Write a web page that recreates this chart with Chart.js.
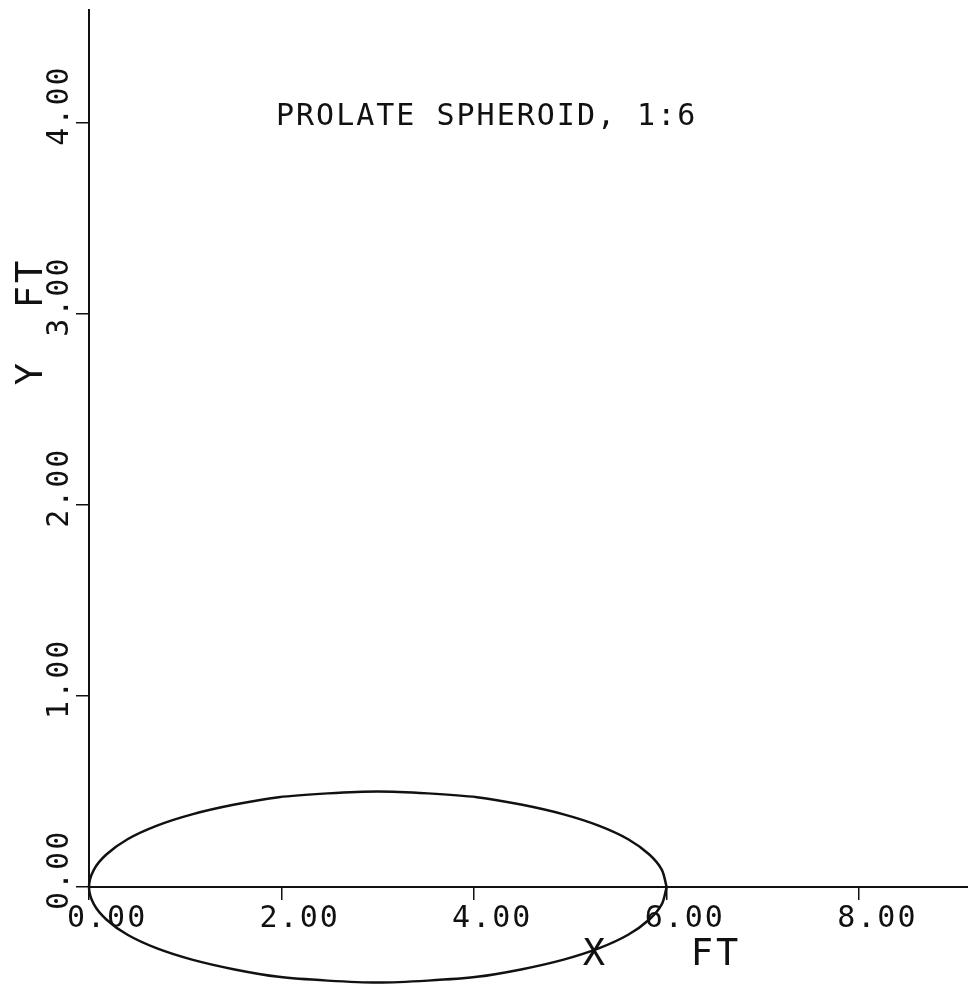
<!DOCTYPE html>
<html>
<head>
<meta charset="utf-8">
<script src="https://cdn.jsdelivr.net/npm/chart.js@4"></script>
<style>
  body { margin: 0; background: #fff; }
  #wrap { width: 968px; height: 987px; position: relative; }
</style>
</head>
<body>
<div id="wrap"><canvas id="myChart"></canvas></div>
<script>
// ticks
var xTickValues = [0, 2, 4, 6, 8];
var xTickLabels = ['0.00', '2.00', '4.00', '6.00', '8.00'];
var yTickValues = [0, 1, 2, 3, 4];
var yTickLabels = ['0.00', '1.00', '2.00', '3.00', '4.00'];

// outline of the spheroid (FT)
var shapeX = [6.00, 5.95, 5.82, 5.60, 5.30, 4.93, 4.50, 4.03, 3.52, 3.00, 2.48, 1.97, 1.50, 1.07, 0.70, 0.40, 0.18, 0.05, 0.00,
              0.05, 0.18, 0.40, 0.70, 1.07, 1.50, 1.97, 2.48, 3.00, 3.52, 4.03, 4.50, 4.93, 5.30, 5.60, 5.82, 5.95, 6.00];
var shapeY = [0.00, 0.09, 0.17, 0.25, 0.32, 0.38, 0.43, 0.47, 0.49, 0.50, 0.49, 0.47, 0.43, 0.38, 0.32, 0.25, 0.17, 0.09, 0.00,
              -0.09, -0.17, -0.25, -0.32, -0.38, -0.43, -0.47, -0.49, -0.50, -0.49, -0.47, -0.43, -0.38, -0.32, -0.25, -0.17, -0.09, 0.00];

var titleText = 'PROLATE SPHEROID, 1:6';

var points = shapeX.map(function (x, i) { return { x: x, y: shapeY[i] }; });

var FONT = '"DejaVu Sans Mono", monospace';

// labels drawn plotter style: offset from the ticks, y labels turned
var plotterText = {
  id: 'plotterText',
  afterDraw: function (chart) {
    var ctx = chart.ctx;
    var xs = chart.scales.x, ys = chart.scales.y;
    ctx.save();
    ctx.fillStyle = '#111';
    ctx.textBaseline = 'alphabetic';

    ctx.font = '30px ' + FONT;
    ctx.letterSpacing = '2px';
    ctx.textAlign = 'left';
    xTickValues.forEach(function (v, i) {
      ctx.fillText(xTickLabels[i], xs.getPixelForValue(v) - 22, 927);
    });
    yTickValues.forEach(function (v, i) {
      ctx.save();
      ctx.translate(68, ys.getPixelForValue(v) + 23);
      ctx.rotate(-Math.PI / 2);
      ctx.fillText(yTickLabels[i], 0, 0);
      ctx.restore();
    });

    // title
    ctx.fillText(titleText, 276, 125);

    // axis titles
    ctx.font = '37px ' + FONT;
    ctx.letterSpacing = '0px';
    ctx.textAlign = 'center';
    ctx.fillText('X', 594, 965);
    ctx.letterSpacing = '3px';
    ctx.fillText('FT', 716, 965);

    ctx.save();
    ctx.translate(42, 374);
    ctx.rotate(-Math.PI / 2);
    ctx.letterSpacing = '0px';
    ctx.fillText('Y', 0, 0);
    ctx.letterSpacing = '3px';
    ctx.fillText('FT', 91, 0);
    ctx.restore();

    ctx.restore();
  }
};

new Chart('myChart', {
  type: 'scatter',
  data: {
    datasets: [{
      data: points,
      showLine: true,
      borderColor: '#111',
      borderWidth: 2.5,
      pointRadius: 0,
      tension: 0.3,
      fill: false,
      clip: false
    }]
  },
  options: {
    responsive: true,
    maintainAspectRatio: false,
    animation: false,
    layout: { padding: { top: 10, right: 0, left: 0, bottom: 0 } },
    plugins: {
      legend: { display: false },
      tooltip: { enabled: false }
    },
    scales: {
      x: {
        type: 'linear',
        min: 0,
        max: 9.13,
        afterBuildTicks: function (s) { s.ticks = xTickValues.map(function (v) { return { value: v }; }); },
        afterFit: function (s) { s.height = 100; },
        ticks: { display: false },
        grid: { drawOnChartArea: false, drawTicks: true, tickLength: 13, color: '#111', lineWidth: 1.5 },
        border: { display: true, color: '#111', width: 2 }
      },
      y: {
        type: 'linear',
        min: 0,
        max: 4.59,
        afterBuildTicks: function (s) { s.ticks = yTickValues.map(function (v) { return { value: v }; }); },
        afterFit: function (s) { s.width = 89; },
        ticks: { display: false },
        grid: { drawOnChartArea: false, drawTicks: true, tickLength: 13, color: '#111', lineWidth: 1.5 },
        border: { display: true, color: '#111', width: 2 }
      }
    }
  },
  plugins: [plotterText]
});
</script>
</body>
</html>
